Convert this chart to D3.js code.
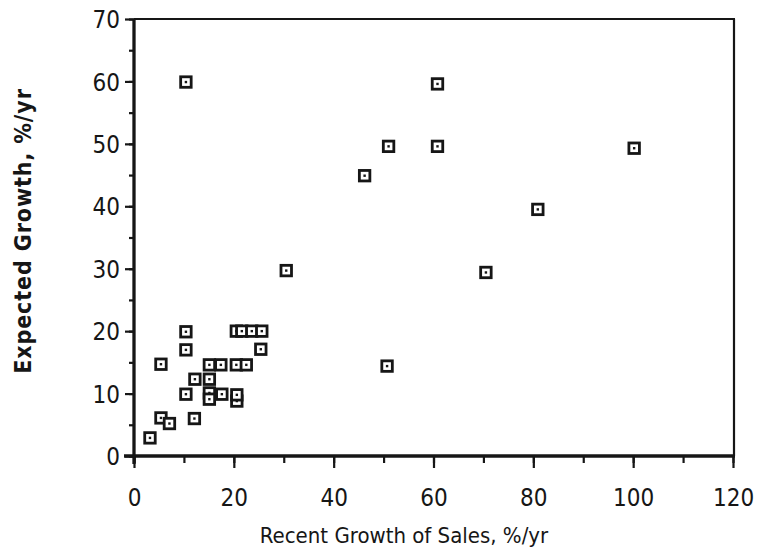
<!DOCTYPE html>
<html>
<head>
<meta charset="utf-8">
<script src="https://cdn.jsdelivr.net/npm/d3@7"></script>
<style>
  html, body { margin: 0; padding: 0; background: #ffffff; }
  svg { display: block; }
  text { font-family: "DejaVu Sans Condensed", "DejaVu Sans", sans-serif; fill: #161616; }
</style>
</head>
<body>
<svg id="chart" width="757" height="553"></svg>
<script>
// Data (x = recent growth of sales %/yr, y = expected growth %/yr)
const salesGrowth    = [3.2, 5.4, 7.1, 5.4, 10.4, 10.4, 10.4, 10.4, 12.1, 12.2, 15.1, 15.1, 15.1, 15.1, 17.6, 17.4, 20.5, 22.5, 20.6, 20.6, 20.5, 21.6, 23.6, 25.6, 25.4, 30.5, 46.2, 51.0, 60.8, 60.8, 50.7, 70.5, 80.9, 100.2];
const expectedGrowth = [2.9, 6.1, 5.2, 14.7, 9.9, 17.0, 19.9, 59.9, 6.0, 12.3, 12.3, 14.6, 10.1, 9.1, 9.9, 14.6, 14.6, 14.6, 8.8, 9.8, 20.0, 20.0, 20.0, 20.0, 17.1, 29.7, 44.9, 49.6, 49.6, 59.6, 14.4, 29.4, 39.5, 49.3];
const xTickValues = [0, 20, 40, 60, 80, 100, 120];
const yTickValues = [0, 10, 20, 30, 40, 50, 60, 70];
const xTitle = "Recent Growth of Sales, %/yr";
const yTitle = "Expected Growth, %/yr";

const points = salesGrowth.map((v, i) => ({x: v, y: expectedGrowth[i]}));

const svg = d3.select("#chart");
const x = d3.scaleLinear().domain([0, 120]).range([134, 733]);
const y = d3.scaleLinear().domain([0, 70]).range([456, 19]);
const ink = "#161616";

// frame (top and right)
svg.append("line").attr("x1", x(0)).attr("x2", x(120) + 2).attr("y1", y(70)).attr("y2", y(70))
  .attr("stroke", ink).attr("stroke-width", 2.2);
svg.append("line").attr("x1", x(120) + 1).attr("x2", x(120) + 1).attr("y1", y(70)).attr("y2", y(0))
  .attr("stroke", ink).attr("stroke-width", 2.2);

// x axis
const xMinor = d3.range(0, 121, 10);
const gx = svg.append("g").attr("transform", `translate(0,${y(0)})`);
gx.call(d3.axisBottom(x).tickValues(xMinor).tickSize(7).tickFormat(""));
gx.append("g").call(d3.axisBottom(x).tickValues(xTickValues).tickSize(12).tickFormat(d3.format("d")));
gx.selectAll(".domain").attr("stroke", ink).attr("stroke-width", 3.2).attr("d", `M${x(0) - 10},0H${x(120) + 2}`);
gx.selectAll(".tick line").attr("stroke", ink).attr("stroke-width", 2.2);
gx.selectAll(".tick text").attr("font-size", 24).attr("y", 0).attr("dy", 50).attr("fill", ink)
  .style("font-family", '"DejaVu Sans Condensed", "DejaVu Sans", sans-serif');

// y axis
const yMinor = d3.range(0, 71, 5);
const gy = svg.append("g").attr("transform", `translate(${x(0)},0)`);
gy.call(d3.axisLeft(y).tickValues(yMinor).tickSize(5).tickFormat(""));
gy.append("g").call(d3.axisLeft(y).tickValues(yTickValues).tickSize(9).tickFormat(d3.format("d")));
gy.selectAll(".domain").attr("stroke", ink).attr("stroke-width", 2.8).attr("d", `M0,${y(70)}V${y(0) + 8}`);
gy.selectAll(".tick line").attr("stroke", ink).attr("stroke-width", 2.2);
gy.selectAll(".tick text").attr("font-size", 24).attr("x", -14).attr("dy", "0.36em").attr("fill", ink)
  .style("font-family", '"DejaVu Sans Condensed", "DejaVu Sans", sans-serif');

// titles
svg.append("text").attr("x", 404).attr("y", 543)
  .attr("text-anchor", "middle").attr("font-size", 22).text(xTitle);
svg.append("text").attr("transform", `translate(31,231) rotate(-90)`)
  .attr("text-anchor", "middle").attr("font-size", 23).attr("letter-spacing", 0.9)
  .attr("font-weight", "bold").text(yTitle);

// markers: open squares with a centre dot
const s = 10.5;
const g = svg.append("g");
const m = g.selectAll("g.pt").data(points).join("g").attr("class", "pt")
  .attr("transform", d => `translate(${x(d.x)},${y(d.y)})`);
m.append("rect").attr("x", -s / 2).attr("y", -s / 2).attr("width", s).attr("height", s)
  .attr("fill", "#ffffff").attr("stroke", ink).attr("stroke-width", 2.8);
m.append("rect").attr("x", -1.2).attr("y", -1.2).attr("width", 2.4).attr("height", 2.4).attr("fill", ink);
</script>
</body>
</html>
